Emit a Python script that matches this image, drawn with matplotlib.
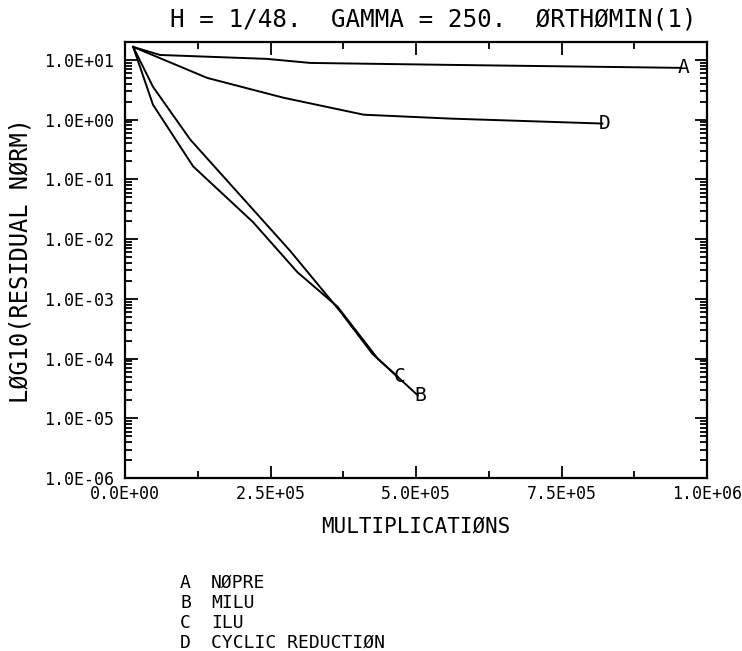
import matplotlib
matplotlib.use('Agg')
import matplotlib.pyplot as plt
from matplotlib.ticker import MultipleLocator, LogLocator, NullFormatter, FixedLocator

plt.rcParams['font.family'] = ['DejaVu Sans Mono', 'DejaVu Sans']

# 数据: 乘法次数与残差范数
a_x = [1.4e4, 6.0e4, 2.44e5, 3.18e5, 5.6e5, 9.55e5]
a_y = [16.5, 12.1, 10.4, 8.9, 8.25, 7.36]

b_x = [1.4e4, 4.8e4, 1.17e5, 2.2e5, 2.96e5, 3.65e5, 4.34e5, 5.03e5]
b_y = [16.5, 1.78, 0.165, 0.0192, 2.8e-3, 7.4e-4, 1.0e-4, 2.42e-5]

c_x = [1.4e4, 4.8e4, 1.12e5, 2.84e5, 3.70e5, 4.25e5, 4.68e5]
c_y = [16.5, 3.55, 0.464, 6.3e-3, 6.1e-4, 1.2e-4, 5.0e-5]

d_x = [1.4e4, 1.41e5, 2.72e5, 4.10e5, 5.60e5, 8.20e5]
d_y = [16.5, 5.0, 2.33, 1.21, 1.04, 0.86]

curves = [('A', a_x, a_y), ('B', b_x, b_y), ('C', c_x, c_y), ('D', d_x, d_y)]
legend_keys = ['A', 'B', 'C', 'D']
legend_names = ['NØPRE', 'MILU', 'ILU', 'CYCLIC REDUCTIØN']

x_ticks = [0, 2.5e5, 5.0e5, 7.5e5, 1.0e6]
x_labels = ['0.0E+00', '2.5E+05', '5.0E+05', '7.5E+05', '1.0E+06']
y_ticks = [1e-6, 1e-5, 1e-4, 1e-3, 1e-2, 1e-1, 1e0, 1e1]
y_labels = ['1.0E-06', '1.0E-05', '1.0E-04', '1.0E-03',
            '1.0E-02', '1.0E-01', '1.0E+00', '1.0E+01']

fig = plt.figure(figsize=(7.42, 6.51), dpi=100)
ax = fig.add_axes([0.1685, 0.2657, 0.7845, 0.6698])

for name, xs, ys in curves:
    ax.plot(xs, ys, color='black', linewidth=1.4)
    ax.text(xs[-1] + 4e3, ys[-1], name, fontsize=14, ha='center', va='center')

ax.set_yscale('log')
ax.set_xlim(0, 1.0e6)
ax.set_ylim(1e-6, 10 ** 1.3)

ax.xaxis.set_major_locator(FixedLocator(x_ticks))
ax.set_xticklabels(x_labels)
ax.xaxis.set_minor_locator(MultipleLocator(1.25e5))
ax.yaxis.set_major_locator(FixedLocator(y_ticks))
ax.set_yticklabels(y_labels)
ax.yaxis.set_minor_locator(LogLocator(base=10, subs=range(2, 10), numticks=20))
ax.yaxis.set_minor_formatter(NullFormatter())

ax.tick_params(which='both', direction='in', top=True, right=True, labelsize=12, width=1.3)
ax.tick_params(which='major', length=9, pad=5)
ax.tick_params(which='minor', length=5)
ax.tick_params(axis='y', which='major', pad=8)
for s in ax.spines.values():
    s.set_linewidth(1.6)

ax.set_title('H = 1/48.  GAMMA = 250.  ØRTHØMIN(1)', fontsize=17.5, pad=11, x=0.53)
ax.set_xlabel('MULTIPLICATIØNS', fontsize=15, labelpad=10)
ax.set_ylabel('LØG10(RESIDUAL NØRM)', fontsize=17, labelpad=8)

# 图例说明
for i in range(len(legend_keys)):
    y = 1 - (583 + 20 * i) / 651
    fig.text(180 / 742, y, legend_keys[i], fontsize=13, va='center')
    fig.text(211 / 742, y, legend_names[i], fontsize=13, va='center')

fig.savefig('out.png', dpi=100)
